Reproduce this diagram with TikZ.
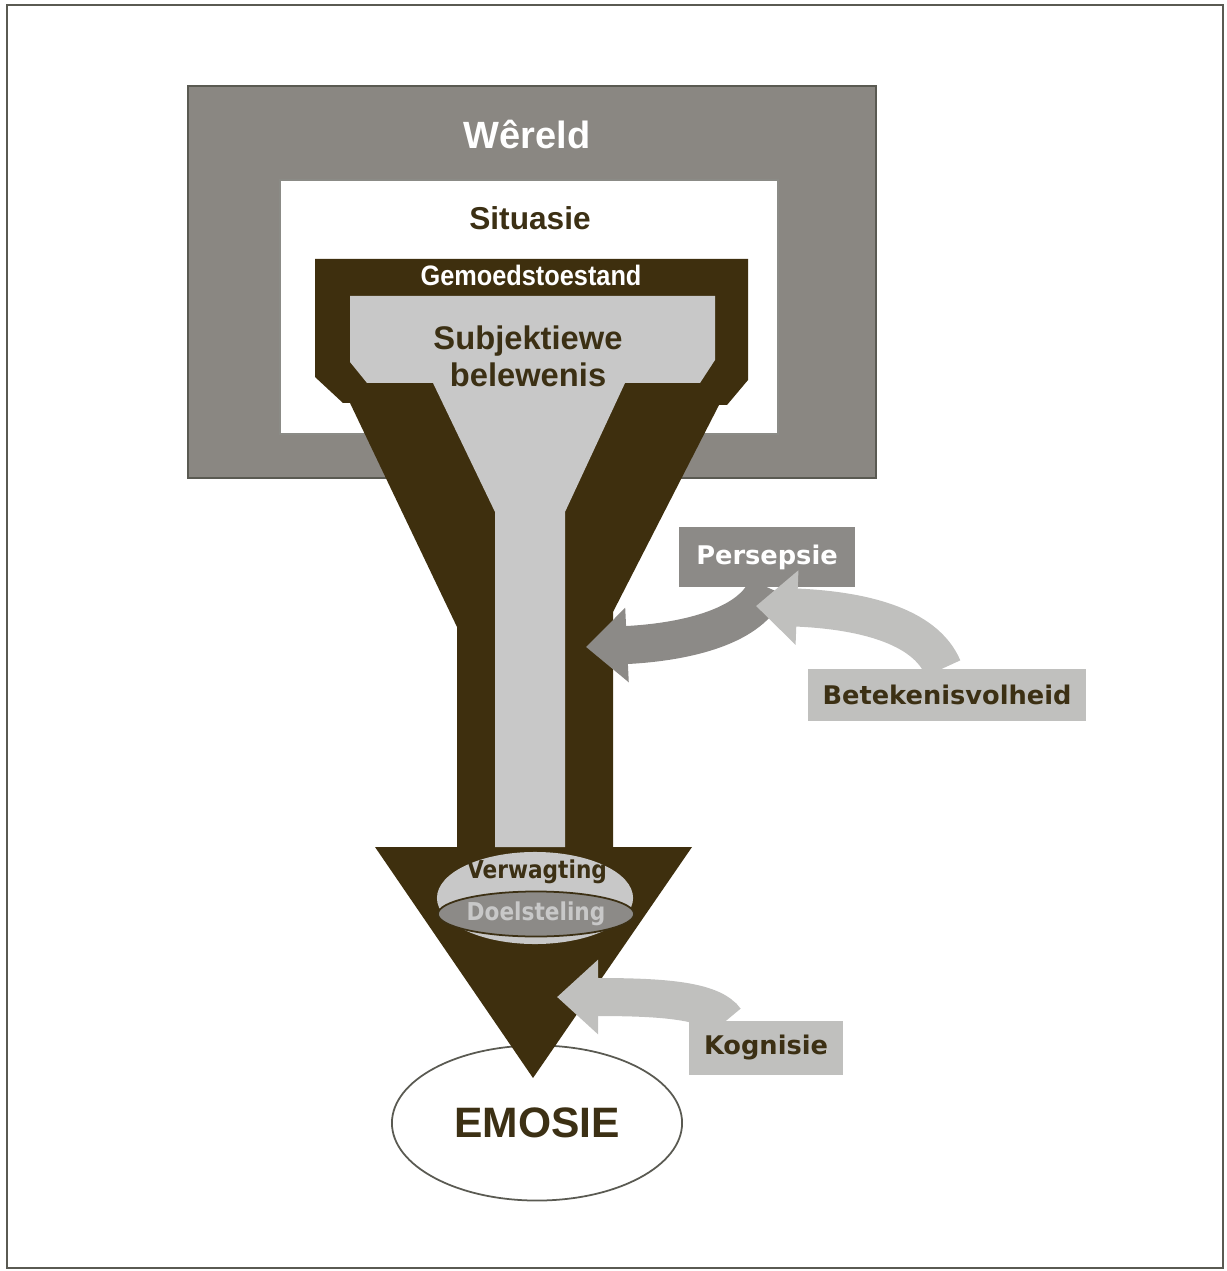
\documentclass[tikz,border=0pt]{standalone}
\usepackage{fontspec}
\setmainfont{Liberation Sans}
\newfontfamily\narrowfont[FakeStretch=0.9]{Liberation Sans}
\newfontfamily\verdfont{DejaVu Sans}
\newfontfamily\tahfont[FakeStretch=0.88]{DejaVu Sans}
\usetikzlibrary{shapes.geometric,arrows.meta,positioning}
\definecolor{funnelbrown}{RGB}{62,47,14}
\definecolor{inkbrown}{RGB}{60,48,20}
\definecolor{worldgray}{RGB}{138,135,130}
\definecolor{innergray}{RGB}{200,200,200}
\definecolor{pergray}{RGB}{140,138,135}
\definecolor{sidegray}{RGB}{192,192,190}
\definecolor{framegray}{RGB}{90,90,82}
\tikzset{
  lbl/.style={inner sep=0pt, text=inkbrown, font=\bfseries},
  sidebox/.style={rectangle, inner sep=0pt, text=inkbrown,
    font=\verdfont\bfseries\fontsize{7.3}{9}\selectfont},
  bigarrow/.style={line width=0.38cm, -{Triangle[length=0.41cm,width=0.72cm]}},
}
\begin{document}
\begin{tikzpicture}[x=0.01cm,y=-0.01cm]
\useasboundingbox (0,0) rectangle (1226,1271);
% frame
\draw[framegray, line width=0.5pt] (7,5) rectangle (1223,1268);
% world and situation
\node[rectangle, fill=worldgray, draw=framegray, line width=0.6pt,
  minimum width=6.88cm, minimum height=3.92cm] (wereld) at (532,282) {};
\node[rectangle, fill=white, draw=framegray!70, line width=0.5pt,
  minimum width=4.98cm, minimum height=2.54cm] (situasie) at (529,307) {};
\node[lbl, text=white, font=\bfseries\fontsize{10.8}{13}\selectfont] (wereldlbl) at (527,135) {Wêreld};
\node[lbl, font=\bfseries\fontsize{9}{11}\selectfont] (situasielbl) at (530,218) {Situasie};
% emotion
\node[ellipse, fill=white, draw=framegray, line width=0.5pt, inner sep=0pt,
  minimum width=2.9cm, minimum height=1.55cm,
  font=\bfseries\fontsize{12.1}{14}\selectfont, text=inkbrown] (emosie) at (537,1123) {EMOSIE};
% funnel
\fill[funnelbrown] (315,259) -- (748,259) -- (748,380) -- (727,405) -- (719,405)
  -- (613,612) -- (613,847) -- (692,847) -- (533,1078) -- (375,847) -- (457,847)
  -- (457,627) -- (350,403) -- (343,403) -- (315,377) -- cycle;
\fill[innergray] (350,296) -- (715,296) -- (715,360) -- (700,383) -- (625,383)
  -- (565,512) -- (565,847) -- (495,847) -- (495,512) -- (433,383) -- (367,383)
  -- (350,362) -- cycle;
\node[lbl, text=white, font=\narrowfont\bfseries\fontsize{8}{10}\selectfont] (gemoed) at (531,275) {Gemoedstoestand};
\node[lbl, align=center, font=\bfseries\fontsize{9.3}{10.5}\selectfont] (subjek) at (528,356) {Subjektiewe\\belewenis};
% expectation and goal
\node[ellipse, fill=innergray, inner sep=0pt, minimum width=1.96cm, minimum height=0.92cm] (verwag) at (535,898) {};
\node[lbl, font=\tahfont\bfseries\fontsize{7}{9}\selectfont] (verwaglbl) at (537,872) {Verwagting};
\node[ellipse, fill=pergray, draw=inkbrown, line width=0.5pt, inner sep=0pt,
  minimum width=1.68cm, minimum height=0.45cm, text=innergray,
  font=\tahfont\bfseries\fontsize{7}{9}\selectfont] (doel) at (536,914) {Doelsteling};
% side influences
\coordinate (pertip) at (586,647);
\coordinate (bettip) at (756,606);
\coordinate (kogtip) at (557,997);
\node[sidebox, fill=pergray, text=white, minimum width=1.75cm, minimum height=0.59cm] (persepsie) at (767,557) {Persepsie};
\draw[bigarrow, pergray] (persepsie.south) .. controls (752,625) and (690,642) .. (pertip);
\node[sidebox, fill=pergray, text=white, minimum width=1.75cm, minimum height=0.59cm] at (persepsie) {Persepsie};
\node[sidebox, fill=sidegray, minimum width=2.78cm, minimum height=0.52cm] (betek) at (947,695) {Betekenisvolheid};
\draw[bigarrow, sidegray] ([xshift=-0.04cm]betek.north) .. controls (925,625) and (860,610) .. (bettip);
\node[sidebox, fill=sidegray, minimum width=1.53cm, minimum height=0.53cm] (kognisie) at (766,1048) {Kognisie};
\draw[bigarrow, sidegray] ([xshift=-0.4cm]kognisie.north) .. controls (712,1000) and (660,997) .. (kogtip);
\end{tikzpicture}
\end{document}
